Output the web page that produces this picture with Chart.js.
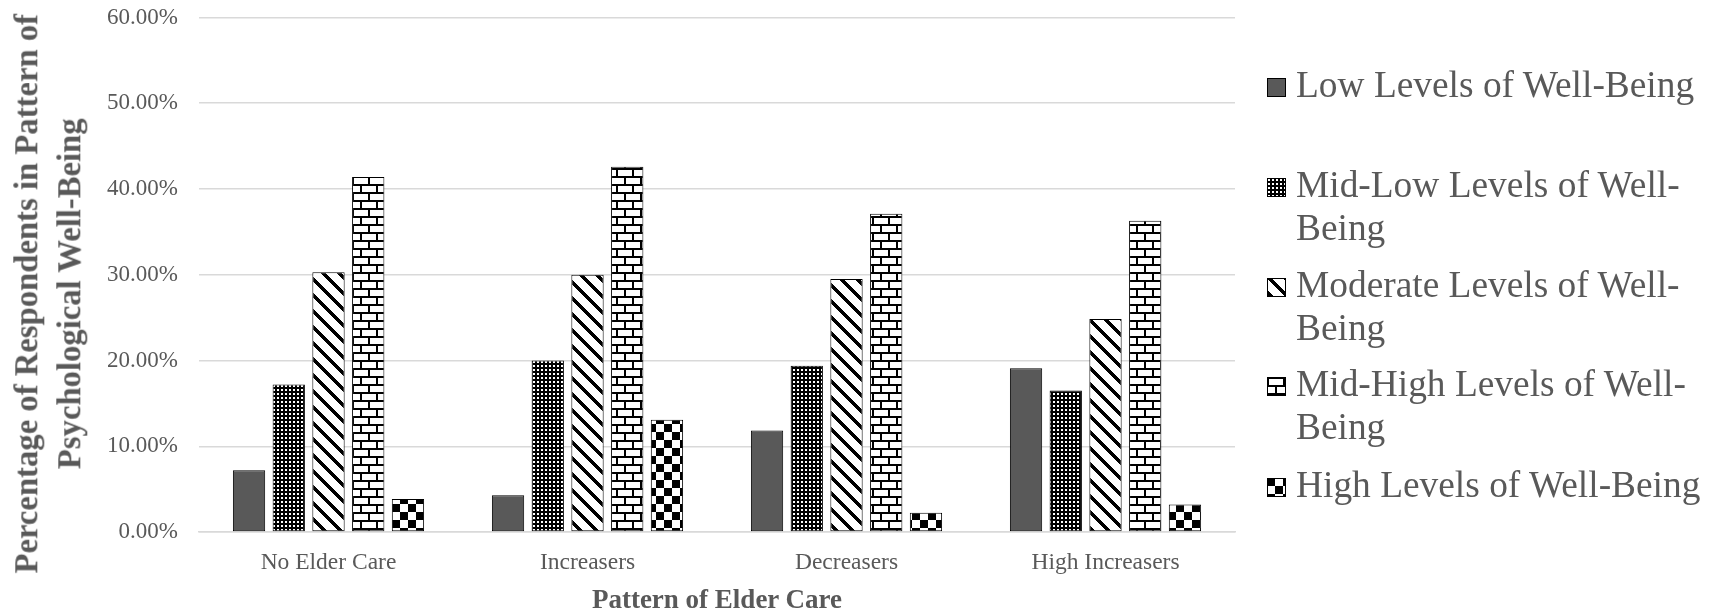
<!DOCTYPE html>
<html>
<head>
<meta charset="utf-8">
<script src="https://cdn.jsdelivr.net/npm/chart.js@4/dist/chart.umd.min.js"></script>
<style>
  html, body { margin: 0; padding: 0; background: #fff; }
  #wrap { position: relative; width: 1719px; height: 615px; overflow: hidden; font-family: "Liberation Serif", "Times New Roman", serif; color: #595959; }
  #c { position: absolute; left: 0; top: 0; }
  .ytitle { position: absolute; width: 600px; height: 85.4px; line-height: 42.7px; font-size: 32.7px; font-weight: bold; text-align: center; transform: rotate(-90deg); white-space: nowrap; }
  .xtitle { position: absolute; font-size: 27px; line-height: 27px; font-weight: bold; white-space: nowrap; transform: translateX(-50%); }
  .leg { position: absolute; left: 1296px; font-size: 37.4px; line-height: 43.3px; white-space: nowrap; }
  .sw { position: absolute; left: 1267px; }
</style>
</head>
<body>
<div id="wrap">
  <canvas id="c" width="1719" height="615"></canvas>
  <div class="ytitle" id="ytitle"></div>
  <div class="xtitle" id="xtitle"></div>
  <div id="legend"></div>
</div>
<script>
// ---- data ----
const categories = ['No Elder Care', 'Increasers', 'Decreasers', 'High Increasers'];
const seriesNames = ['Low Levels of Well-Being', 'Mid-Low Levels of Well-Being', 'Moderate Levels of Well-Being', 'Mid-High Levels of Well-Being', 'High Levels of Well-Being'];
const legendLines = [['Low Levels of Well-Being'], ['Mid-Low Levels of Well-', 'Being'], ['Moderate Levels of Well-', 'Being'], ['Mid-High Levels of Well-', 'Being'], ['High Levels of Well-Being']];
const lowVals      = [7.2, 4.3, 11.85, 19.1];
const midLowVals   = [17.2, 20.0, 19.4, 16.5];
const moderateVals = [30.3, 30.0, 29.5, 24.85];
const midHighVals  = [41.4, 42.6, 37.1, 36.3];
const highVals     = [3.85, 13.1, 2.25, 3.2];
const yTickValues  = [0, 10, 20, 30, 40, 50, 60];
const yTitleLines  = ['Percentage of Respondents in Pattern of', 'Psychological Well-Being'];
const xTitleText   = 'Pattern of Elder Care';

// ---- patterns ----
function tile(w, h, draw) {
  const cv = document.createElement('canvas');
  cv.width = w; cv.height = h;
  const g = cv.getContext('2d');
  g.fillStyle = '#fff'; g.fillRect(0, 0, w, h);
  g.fillStyle = '#000';
  draw(g);
  return cv;
}
function makePattern(ctx, kind) {
  let cv;
  if (kind === 'solid') return '#595959';
  if (kind === 'dots') {
    cv = tile(4, 4, g => { g.fillRect(0, 0, 4, 4); g.fillStyle = '#fff'; g.fillRect(1, 1, 2, 2); });
  } else if (kind === 'diag') {
    cv = tile(16, 16, g => {
      for (let y = 0; y < 16; y++) for (let x = 0; x < 16; x++) {
        if ((((x - y) % 16) + 16) % 16 < 5) g.fillRect(x, y, 1, 1);
      }
    });
  } else if (kind === 'brick') {
    cv = tile(16, 16, g => {
      g.fillRect(0, 0, 16, 2); g.fillRect(0, 8, 16, 2);
      g.fillRect(0, 2, 2, 6); g.fillRect(8, 10, 2, 6);
    });
  } else if (kind === 'check') {
    cv = tile(16, 16, g => { g.fillRect(0, 0, 8, 8); g.fillRect(8, 8, 8, 8); });
  }
  return ctx.createPattern(cv, 'repeat');
}
const kinds = ['solid', 'dots', 'diag', 'brick', 'check'];

const canvas = document.getElementById('c');
const ctx = canvas.getContext('2d');
const allVals = [lowVals, midLowVals, moderateVals, midHighVals, highVals];

const datasets = allVals.map((vals, i) => ({
  label: seriesNames[i],
  data: vals,
  backgroundColor: makePattern(ctx, kinds[i]),
  borderColor: '#000',
  borderWidth: 1,
  borderSkipped: false,
  categoryPercentage: 0.767,
  barPercentage: 0.813
}));

new Chart(ctx, {
  type: 'bar',
  data: { labels: categories, datasets },
  options: {
    responsive: false,
    animation: false,
    devicePixelRatio: 1,
    layout: { padding: { left: 0, right: 484, top: 17.5, bottom: 0 } },
    plugins: { legend: { display: false }, tooltip: { enabled: false } },
    scales: {
      x: {
        grid: { display: false, drawTicks: false },
        border: { display: true, color: '#d9d9d9', width: 1.5 },
        ticks: { color: '#595959', font: { family: 'Liberation Serif', size: 23.5 }, padding: 17, maxRotation: 0 },
        afterFit: s => { s.height = 83; s.paddingLeft = 0; s.paddingRight = 0; }
      },
      y: {
        min: 0, max: 60,
        afterBuildTicks: s => { s.ticks = yTickValues.map(v => ({ value: v })); },
        grid: { color: '#d9d9d9', lineWidth: 1.5, drawTicks: false },
        border: { display: false },
        ticks: { color: '#595959', font: { family: 'Liberation Serif', size: 23 }, padding: 21,
                 callback: v => v.toFixed(2) + '%' },
        afterFit: s => { s.width = 199; s.paddingTop = 0; s.paddingBottom = 0; }
      }
    }
  }
});

// ---- titles ----
const yt = document.getElementById('ytitle');
yt.innerHTML = yTitleLines.join('<br>');
const cx = 47.5, cy = 294;
yt.style.left = (cx - 300) + 'px';
yt.style.top = (cy - 42.7) + 'px';

const xt = document.getElementById('xtitle');
xt.textContent = xTitleText;
xt.style.left = '717px';
xt.style.top = '586px';

// ---- legend ----
const baselines = [96.7, 196.7, 296.7, 396, 496.7];
const legend = document.getElementById('legend');
legendLines.forEach((lines, i) => {
  const d = document.createElement('div');
  d.className = 'leg';
  d.innerHTML = lines.join('<br>');
  d.style.top = (baselines[i] - 34.1) + 'px';
  legend.appendChild(d);
  const sw = document.createElement('canvas');
  sw.className = 'sw';
  sw.width = 19; sw.height = 19;
  sw.style.top = (baselines[i] - 18.7) + 'px';
  const g = sw.getContext('2d');
  g.fillStyle = makePattern(g, kinds[i]);
  g.fillRect(0, 0, 19, 19);
  g.strokeStyle = '#000'; g.lineWidth = 1;
  g.strokeRect(0.5, 0.5, 18, 18);
  legend.appendChild(sw);
});
</script>
</body>
</html>
